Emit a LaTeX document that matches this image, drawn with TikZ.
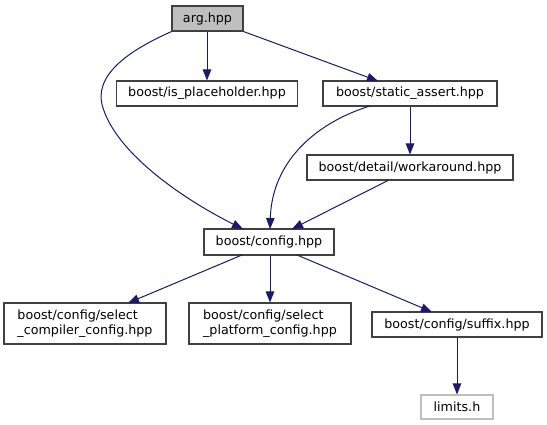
\documentclass[tikz,border=0pt]{standalone}
\usepackage{fontspec}
\setmainfont{DejaVu Sans}
\usetikzlibrary{arrows.meta}
\definecolor{edgecol}{HTML}{191970}
\definecolor{boxcol}{HTML}{404040}
\definecolor{argfill}{HTML}{BFBFBF}
\definecolor{extcol}{HTML}{BFBFBF}
\tikzset{
  filebox/.style={draw=boxcol, line width=1.1pt, fill=white, inner sep=0pt, align=center,
    font=\fontsize{12.7}{15}\selectfont, text=black},
  extbox/.style={filebox, draw=extcol},
  rootbox/.style={filebox, fill=argfill},
  dep/.style={draw=edgecol, line width=1pt, -{Triangle[length=11pt,width=8.5pt]}},
}
\begin{document}
\begin{tikzpicture}[x=1pt,y=-1pt]
\useasboundingbox (0,0) rectangle (547,425);
\node[rootbox, minimum width=71pt, minimum height=25pt] (arg) at (207.5,18.5) {arg.hpp};
\node[filebox, minimum width=181pt, minimum height=25pt] (isp) at (207,93.5) {boost/is\_placeholder.hpp};
\node[filebox, minimum width=174pt, minimum height=25pt] (sa) at (410,93.5) {boost/static\_assert.hpp};
\node[filebox, minimum width=206pt, minimum height=25pt] (wa) at (410,167.5) {boost/detail/workaround.hpp};
\node[filebox, minimum width=130pt, minimum height=26pt] (cfg) at (269,242) {boost/config.hpp};
\node[filebox, minimum width=162pt, minimum height=41pt, align=left] (cc) at (85,323.5) {boost/config/select\\\_compiler\_config.hpp};
\node[filebox, minimum width=162pt, minimum height=41pt, align=left] (pc) at (270,323.5) {boost/config/select\\\_platform\_config.hpp};
\node[filebox, minimum width=170pt, minimum height=25pt] (suf) at (457,324.5) {boost/config/suffix.hpp};
\node[extbox, minimum width=72pt, minimum height=24pt] (lim) at (457,407) {limits.h};

\draw[dep] (isp.north |- arg.south) -- (isp.north);
\draw[dep] (arg.south east) -- (378,81);
\draw[dep] (arg.south west) .. controls (130,50) and (92,75) .. (103,108) .. controls (118,155) and (185,200) .. (243,229);
\draw[dep] (370,106) .. controls (318,122) and (272,160) .. (270,229);
\draw[dep] (sa.south -| wa.north) -- (wa.north);
\draw[dep] (388,180.5) -- (292,229);
\draw[dep] (242,255) -- (128,303);
\draw[dep] (cfg.south -| pc.north) -- (pc.north);
\draw[dep] (297,255) -- (432,312);
\draw[dep] (suf.south) -- (lim.north);
\end{tikzpicture}
\end{document}
